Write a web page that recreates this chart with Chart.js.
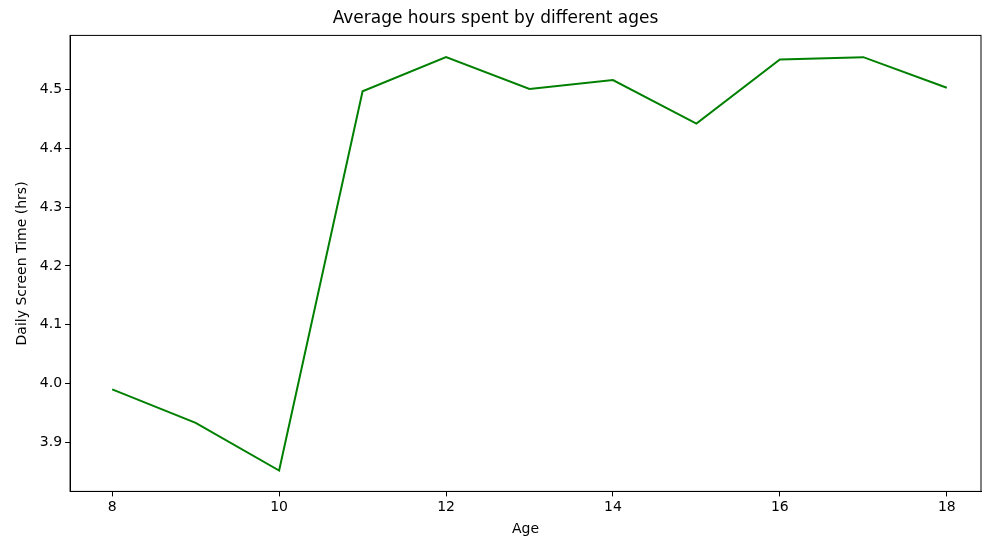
<!DOCTYPE html>
<html><head><meta charset="utf-8">
<script src="https://cdn.jsdelivr.net/npm/chart.js@4/dist/chart.umd.min.js"></script>
<style>html,body{margin:0;background:#fff}#w{width:1000px;height:554px}</style>
</head><body><div id="w"><canvas id="c"></canvas></div>
<script>
const ages = [8,9,10,11,12,13,14,15,16,17,18];
const hours = [3.990,3.933,3.852,4.497,4.555,4.501,4.516,4.442,4.551,4.555,4.503];
const xTicks = [8,10,12,14,16,18];
const yTicks = [3.9,4.0,4.1,4.2,4.3,4.4,4.5];
const title = 'Average hours spent by different ages';
const xLabel = 'Age';
const yLabel = 'Daily Screen Time (hrs)';
const font = {family:'DejaVu Sans', size:14};
const tickFont = {family:'DejaVu Sans', size:14};
new Chart(document.getElementById('c'), {
  type:'line',
  data:{datasets:[{data:ages.map((a,i)=>({x:a,y:hours[i]})),borderColor:'#008000',borderWidth:2,pointRadius:0,tension:0,fill:false}]},
  options:{
    responsive:true,maintainAspectRatio:false,animation:false,
    layout:{padding:{left:10,right:19,top:0,bottom:12}},
    plugins:{legend:{display:false},tooltip:{enabled:false},
      title:{display:true,text:title,color:'#000',font:{family:'DejaVu Sans',size:17,weight:'normal'},padding:{top:8,bottom:7}}},
    scales:{
      x:{type:'linear',min:7.495,max:18.41,border:{color:'#000',width:1},
        grid:{drawOnChartArea:false,color:'#000',tickLength:5},
        afterBuildTicks:s=>{s.ticks=xTicks.map(v=>({value:v}));},
        ticks:{color:'#000',font:tickFont,padding:3,callback:v=>v},
        title:{display:true,text:xLabel,color:'#000',font:font,padding:{top:2}}},
      y:{min:3.8165,max:4.592,border:{color:'#000',width:1},
        grid:{drawOnChartArea:false,color:'#000',tickLength:5},
        afterBuildTicks:s=>{s.ticks=yTicks.map(v=>({value:v}));},
        ticks:{color:'#000',font:tickFont,padding:3,callback:v=>v.toFixed(1)},
        title:{display:true,text:yLabel,color:'#000',font:font,padding:{bottom:6}}}
    }
  },
  plugins:[{id:'box',afterDraw(c){const a=c.chartArea,x=c.ctx;x.save();x.strokeStyle='#000';x.lineWidth=1;x.strokeRect(a.left,a.top,a.right-a.left,a.bottom-a.top);x.restore();}}]
});
</script></body></html>
